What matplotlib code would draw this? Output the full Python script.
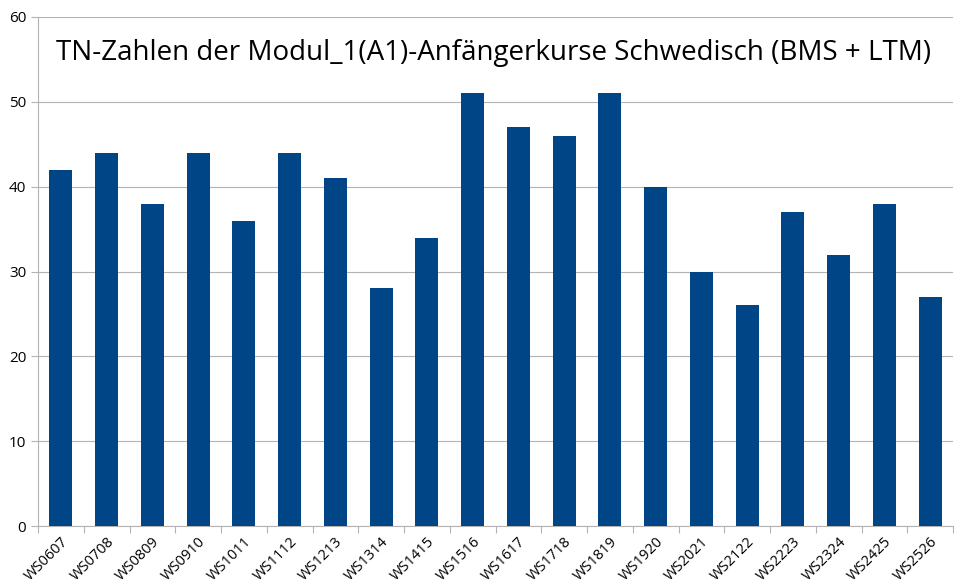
import matplotlib
matplotlib.use("Agg")
import matplotlib.pyplot as plt
import numpy as np

plt.rcParams['font.family'] = ['Open Sans', 'DejaVu Sans']

semesters = ['WS0607', 'WS0708', 'WS0809', 'WS0910', 'WS1011', 'WS1112', 'WS1213',
             'WS1314', 'WS1415', 'WS1516', 'WS1617', 'WS1718', 'WS1819', 'WS1920',
             'WS2021', 'WS2122', 'WS2223', 'WS2324', 'WS2425', 'WS2526']
participants = [42, 44, 38, 44, 36, 44, 41, 28, 34, 51, 47, 46, 51, 40, 30, 26, 37, 32, 38, 27]
title = 'TN-Zahlen der Modul_1(A1)-Anfängerkurse Schwedisch (BMS + LTM)'

fig = plt.figure(figsize=(9.74, 5.88), dpi=100)
ax = fig.add_axes([38 / 974, 1 - 526 / 588, (953 - 38) / 974, (526 - 17) / 588])

x = np.arange(len(semesters))
ax.bar(x, participants, width=0.5, color='#004586', zorder=3)

ax.set_xlim(-0.5, len(semesters) - 0.5)
ax.set_ylim(0, 60)
ax.set_yticks(range(0, 61, 10))
ax.grid(axis='y', color='#b3b3b3', linewidth=0.8, zorder=0)

# ticks sit on the category boundaries, labels at the bar centres
ax.set_xticks(np.arange(-0.5, len(semesters), 1.0))
ax.set_xticklabels([])
ax.set_xticks(x, minor=True)
ax.set_xticklabels(semesters, minor=True, rotation=45, ha='right', rotation_mode='anchor', fontsize=10.5)
ax.tick_params(axis='x', which='minor', length=0, pad=6)
ax.tick_params(axis='x', which='major', length=5, color='#b3b3b3')
ax.tick_params(axis='y', length=5, color='#b3b3b3', labelsize=11)

for side in ['top', 'right']:
    ax.spines[side].set_visible(False)
for side in ['left', 'bottom']:
    ax.spines[side].set_color('#b3b3b3')

ax.text(0.498, 0.93, title, transform=ax.transAxes, ha='center', va='center', fontsize=20)

fig.savefig('out.png', dpi=100)
